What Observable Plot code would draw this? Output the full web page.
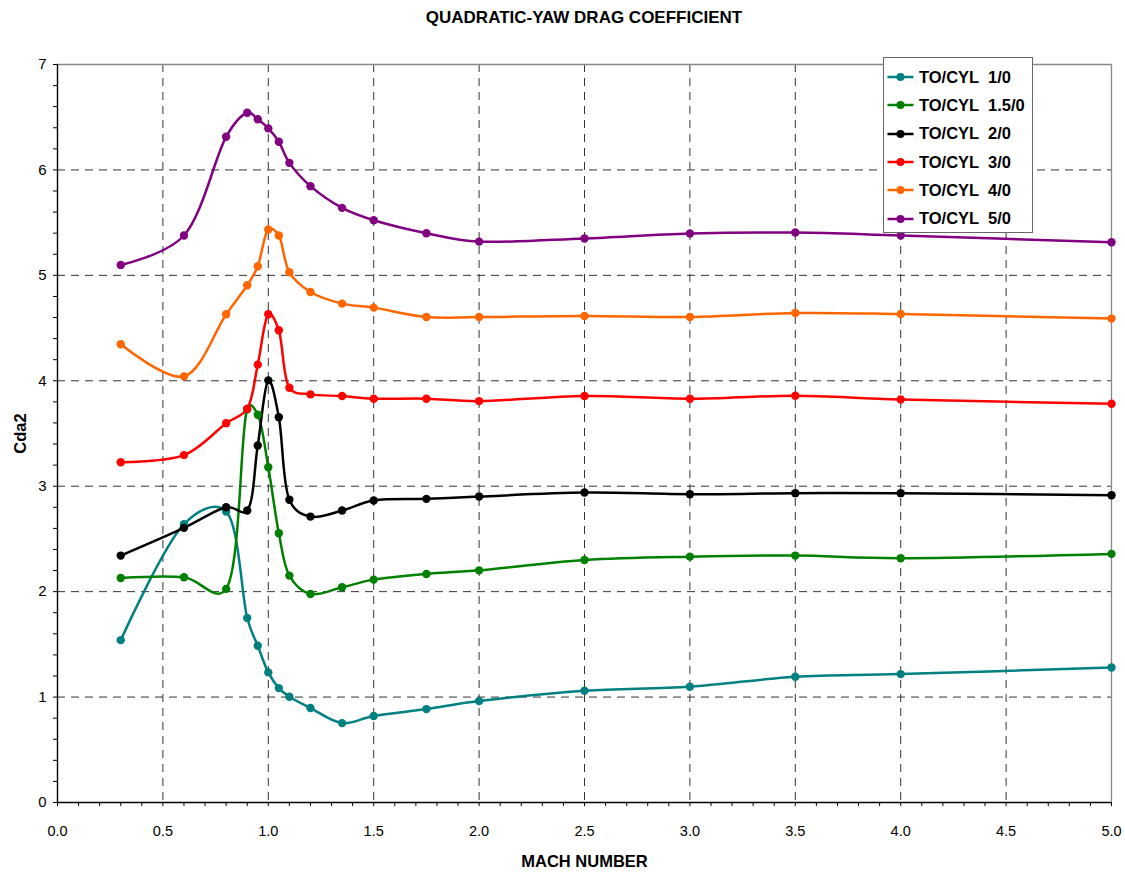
<!DOCTYPE html>
<html><head><meta charset="utf-8">
<script src="https://cdn.jsdelivr.net/npm/d3@7"></script>
<script src="https://cdn.jsdelivr.net/npm/@observablehq/plot@0.6"></script>
<style>
body{margin:0;background:#fff;font-family:Arial,"Liberation Sans",sans-serif;}
#wrap{position:relative;width:1125px;height:875px;}
#title{height:36px;line-height:36px;font-size:17px;font-weight:bold;text-align:center;padding-left:57px;padding-right:14px;box-sizing:border-box;width:1125px;}
#legend{position:absolute;left:883px;top:57px;width:150px;height:176px;border:1px solid #666;background:#fff;box-sizing:border-box;padding-top:5px;}
.row{height:28.3px;display:flex;align-items:center;white-space:pre;font-size:16.5px;font-weight:bold;}
.row svg{margin-left:3px;margin-right:5px;}
</style></head>
<body><div id="wrap"><div id="title">QUADRATIC-YAW DRAG COEFFICIENT</div><div id="chart"></div><div id="legend"></div></div>
<script>
const mach = [0.3, 0.6, 0.8, 0.9, 0.95, 1.0, 1.05, 1.1, 1.2, 1.35, 1.5, 1.75, 2.0, 2.5, 3.0, 3.5, 4.0, 5.0];
const cyl1 = [1.54, 2.64, 2.76, 1.75, 1.487, 1.234, 1.085, 1.003, 0.896, 0.753, 0.82, 0.886, 0.962, 1.06, 1.098, 1.193, 1.218, 1.281];
const cyl15 = [2.13, 2.136, 2.026, 3.73, 3.678, 3.18, 2.554, 2.152, 1.978, 2.041, 2.114, 2.168, 2.202, 2.30, 2.332, 2.342, 2.317, 2.358];
const cyl2 = [2.342, 2.605, 2.80, 2.77, 3.387, 4.004, 3.655, 2.871, 2.712, 2.769, 2.864, 2.88, 2.902, 2.94, 2.924, 2.934, 2.934, 2.915];
const cyl3 = [3.228, 3.295, 3.598, 3.735, 4.153, 4.631, 4.479, 3.934, 3.871, 3.855, 3.83, 3.83, 3.807, 3.855, 3.83, 3.858, 3.823, 3.782];
const cyl4 = [4.346, 4.042, 4.631, 4.906, 5.087, 5.435, 5.378, 5.03, 4.842, 4.732, 4.694, 4.605, 4.605, 4.615, 4.605, 4.643, 4.633, 4.59];
const cyl5 = [5.099, 5.378, 6.314, 6.542, 6.48, 6.394, 6.267, 6.067, 5.846, 5.64, 5.523, 5.40, 5.32, 5.35, 5.397, 5.406, 5.378, 5.314];
const seriesNames = ["TO/CYL  1/0", "TO/CYL  1.5/0", "TO/CYL  2/0", "TO/CYL  3/0", "TO/CYL  4/0", "TO/CYL  5/0"];
const seriesColors = ["#008080", "#008000", "#000000", "#FF0000", "#FF6600", "#800080"];
const seriesValues = [cyl1, cyl15, cyl2, cyl3, cyl4, cyl5];
const xGrid = [0.5, 1.0, 1.5, 2.0, 2.5, 3.0, 3.5, 4.0, 4.5];
const yGrid = [1, 2, 3, 4, 5, 6];
const xTickLabels = [0, 0.5, 1, 1.5, 2, 2.5, 3, 3.5, 4, 4.5, 5];
const yTickLabels = [0, 1, 2, 3, 4, 5, 6, 7];

const rows = seriesNames.flatMap((name, i) => mach.map((m, j) => ({mach: m, cda2: seriesValues[i][j], series: name})));
const xMinor = d3.range(0, 51).map(i => i / 10);
const yMinor = d3.range(0, 36).map(i => i / 5);

const chart = Plot.plot({
  width: 1125, height: 839,
  marginTop: 28, marginBottom: 73, marginLeft: 57, marginRight: 14,
  style: {fontFamily: "Arial, 'Liberation Sans', sans-serif", fontSize: "14.5px", color: "#000", background: "#fff", overflow: "visible"},
  x: {domain: [0, 5]},
  y: {domain: [0, 7]},
  color: {domain: seriesNames, range: seriesColors},
  marks: [
    Plot.ruleX(xGrid, {stroke: "#333", strokeDasharray: "8,6", strokeWidth: 1}),
    Plot.ruleY(yGrid, {stroke: "#333", strokeDasharray: "8,6", strokeWidth: 1}),
    Plot.ruleY([7], {stroke: "#888", strokeWidth: 1.3}),
    Plot.ruleX([5], {stroke: "#888", strokeWidth: 1.3}),
    Plot.line(rows, {x: "mach", y: "cda2", z: "series", stroke: "series", strokeWidth: 2.5, curve: "catmull-rom", tension: 0.25}),
    Plot.dot(rows, {x: "mach", y: "cda2", fill: "series", r: 4.2}),
    Plot.ruleX([0], {stroke: "#000", strokeWidth: 1.4}),
    Plot.ruleY([0], {stroke: "#000", strokeWidth: 1.4}),
    Plot.axisX({ticks: xMinor, tickSize: 4, tickFormat: () => "", label: null}),
    Plot.axisX({ticks: xTickLabels, tickSize: 0, tickPadding: 23, tickFormat: d3.format(".1f"), label: null, fontSize: 14.5}),
    Plot.axisY({ticks: yMinor, tickSize: 4, tickFormat: () => "", label: null}),
    Plot.axisY({ticks: yTickLabels, tickSize: 0, tickPadding: 11, tickFormat: d3.format("d"), label: null, fontSize: 15}),
    Plot.text(["MACH NUMBER"], {frameAnchor: "bottom", dy: 64, fontWeight: "bold", fontSize: 16.5}),
    Plot.text(["Cda2"], {frameAnchor: "left", dx: -37, rotate: -90, textAnchor: "middle", fontWeight: "bold", fontSize: 16.5})
  ]
});
document.getElementById("chart").appendChild(chart);

const legend = document.getElementById("legend");
seriesNames.forEach((name, i) => {
  const row = document.createElement("div");
  row.className = "row";
  row.innerHTML = `<svg width="27" height="12"><line x1="0.5" y1="6" x2="26.5" y2="6" stroke="${seriesColors[i]}" stroke-width="2.5"/><circle cx="13.5" cy="6" r="4" fill="${seriesColors[i]}"/></svg><span></span>`;
  row.querySelector("span").textContent = name;
  legend.appendChild(row);
});
</script></body></html>
